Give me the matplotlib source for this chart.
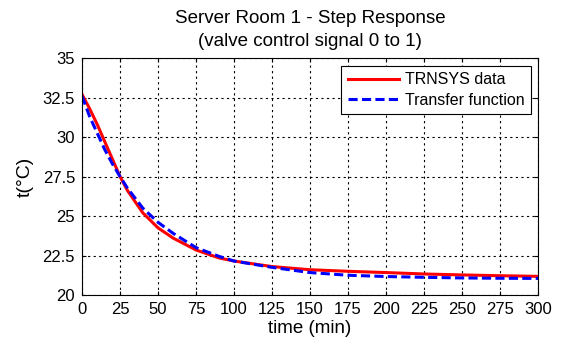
import numpy as np
import matplotlib
matplotlib.use("Agg")
import matplotlib.pyplot as plt

plt.rcParams['font.family'] = ['Liberation Sans', 'DejaVu Sans']

# data
t_min = [0, 5, 10, 15, 20, 25, 30, 40, 50, 60, 75, 90, 100, 125, 150, 175, 200, 225, 250, 275, 300]
trnsys = [32.7, 31.8, 30.8, 29.7, 28.6, 27.5, 26.6, 25.2, 24.25, 23.6, 22.85, 22.35, 22.15, 21.8,
          21.6, 21.5, 21.42, 21.33, 21.27, 21.22, 21.18]
tf_fit = [32.6, 31.3, 30.25, 29.2, 28.3, 27.5, 26.75, 25.5, 24.6, 23.9, 23.0, 22.45, 22.15, 21.75,
          21.42, 21.25, 21.17, 21.12, 21.08, 21.06, 21.05]

x_ticks = np.arange(0, 301, 25)
y_ticks = [20, 22.5, 25, 27.5, 30, 32.5, 35]
y_labels = ["20", "22.5", "25", "27.5", "30", "32.5", "35"]

fig = plt.figure(figsize=(5.63, 3.42), dpi=100)
ax = fig.add_axes([82 / 563, 1 - 295 / 342, 456 / 563, 237 / 342])

ax.plot(t_min, trnsys, color="red", lw=2.2, label="TRNSYS data")
ax.plot(t_min, tf_fit, color="blue", lw=2.2, ls=(0, (3, 1.4)), label="Transfer function")

ax.set_xlim(0, 300)
ax.set_ylim(20, 35)
ax.set_xticks(x_ticks)
ax.set_yticks(y_ticks)
ax.set_yticklabels(y_labels)
ax.tick_params(labelsize=12, direction="in", length=3, pad=5, top=True, right=True)
ax.grid(True, color="black", ls=(0, (2, 3)), lw=0.8)
for s in ax.spines.values():
    s.set_linewidth(0.8)

ax.set_xlabel("time (min)", fontsize=13.5, labelpad=2)
ax.set_ylabel("t(°C)", fontsize=14, labelpad=6)
ax.set_title("Server Room 1 - Step Response\n(valve control signal 0 to 1)", fontsize=13.5,
             pad=9, linespacing=1.4)

leg = ax.legend(loc="upper right", fontsize=11.5, fancybox=False, framealpha=1,
                edgecolor="black", handlelength=3.2, handletextpad=0.4, borderpad=0.4,
                labelspacing=0.35, borderaxespad=0, bbox_to_anchor=(0.985, 0.966))
leg.get_frame().set_linewidth(0.8)

fig.savefig("out.png", dpi=100)
